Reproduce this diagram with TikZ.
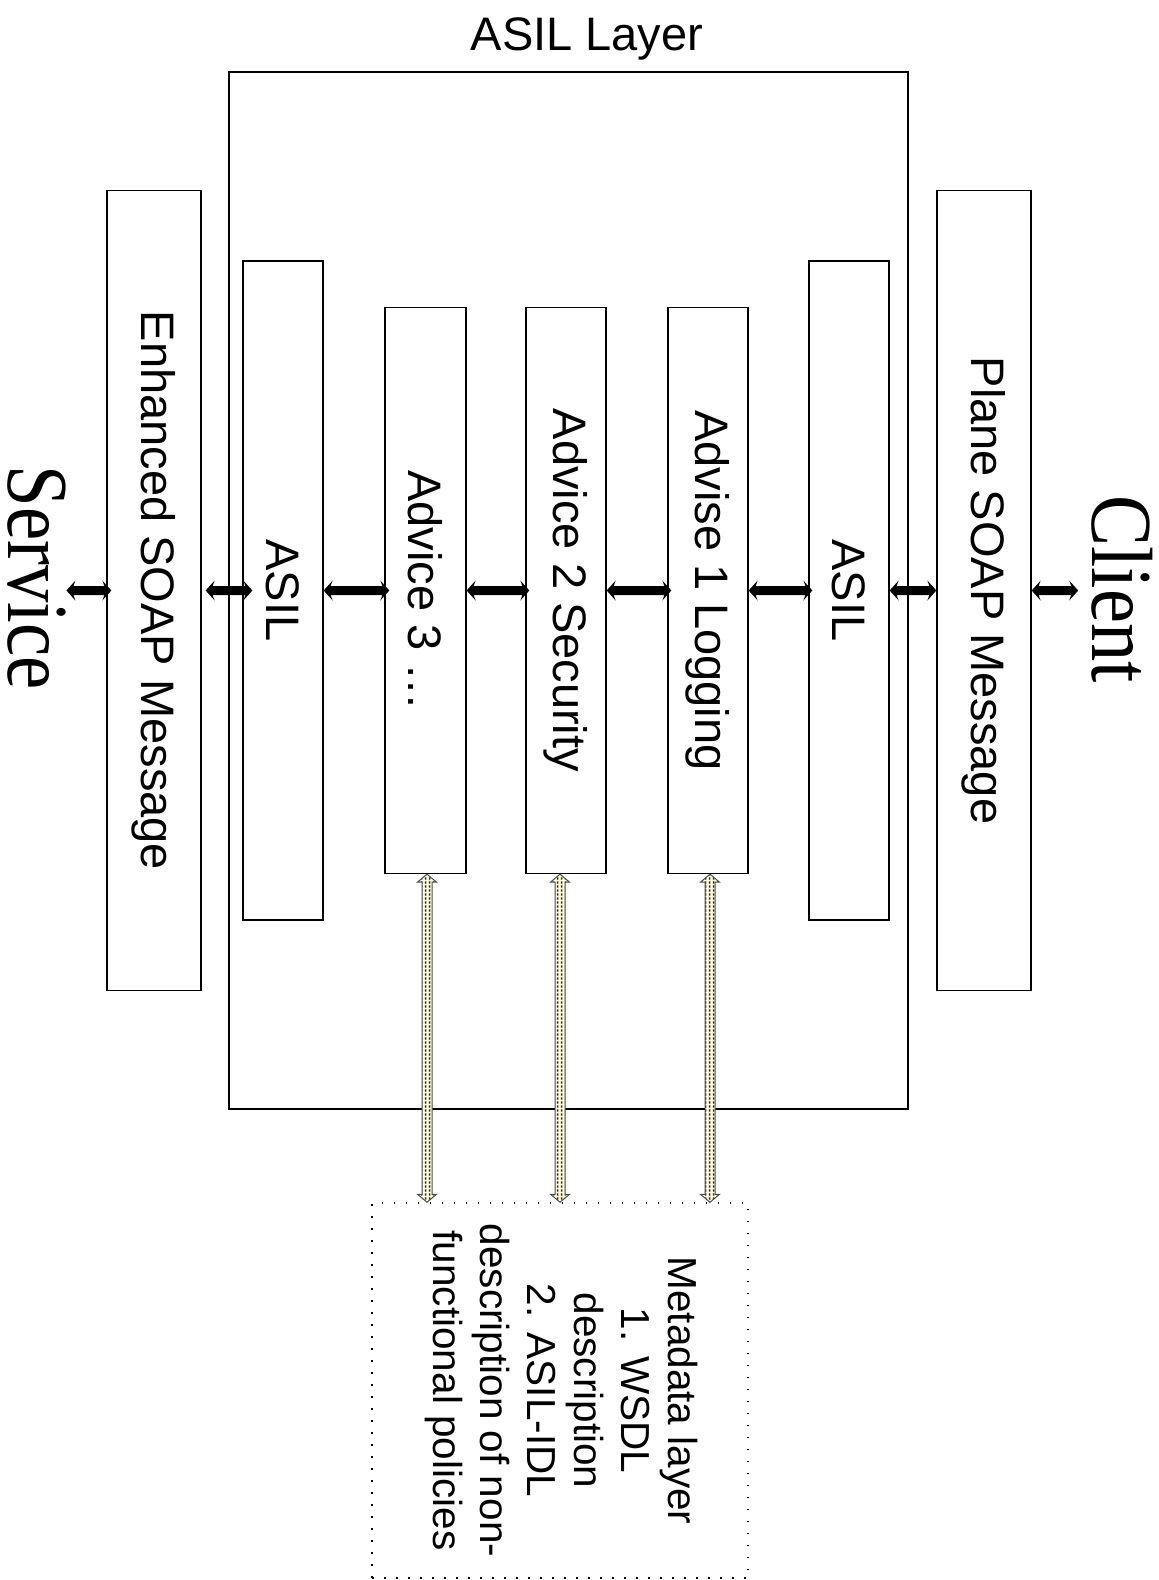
\documentclass[tikz,border=0pt]{standalone}
\usepackage{fontspec}
\setmainfont{Liberation Sans}
\newfontfamily\tnrfont{Liberation Serif}
\usetikzlibrary{patterns,calc}
\pgfdeclarepatternformonly{bigdots}{\pgfpointorigin}{\pgfpoint{4pt}{4pt}}{\pgfpoint{4pt}{4pt}}%
  {\pgfpathrectangle{\pgfpoint{1pt}{0.5pt}}{\pgfpoint{1.8pt}{2.8pt}}\pgfusepath{fill}}
% patterned double arrow between two named coordinates (top, bottom)
\newcommand\patconn[2]{%
  \path[patarrow] (#1) -- ++(9.5,8) -- ++(-4.5,0) -- ($(#2)+(5,-8)$) -- ++(4.5,0) -- (#2)
    -- ++(-9.5,-8) -- ++(4.5,0) -- ($(#1)+(-5,8)$) -- ++(-4.5,0) -- cycle;}
% thick black horizontal double arrow (left point, right point)
\newcommand\blkconn[2]{%
  \coordinate (bL) at (#1);
  \coordinate (bR) at (#2);
  \path[blkarrow] (bL) -- ++(9,-10) -- ++(-2,5.5) -- ($(bR)+(-7,-4.5)$) -- ++(-2,-5.5) -- (bR)
    -- ++(-9,10) -- ++(2,-5.5) -- ($(bL)+(7,4.5)$) -- ++(2,5.5) -- cycle;}
\begin{document}
\begin{tikzpicture}[x=1pt,y=-1pt,
  box/.style={draw, line width=1.3pt, fill=white, inner sep=0pt, font=\fontsize{47}{47}\selectfont},
  blkarrow/.style={fill=black},
  patarrow/.style={draw=black!70, line width=1pt, preaction={fill=yellow!12}, pattern=bigdots, pattern color=black!85},
  bigtext/.style={inner sep=0pt}
]
\useasboundingbox (0,0) rectangle (1159,1580);

% ASIL layer frame and title
\node[draw, line width=2.5pt, minimum width=679, minimum height=1037, inner sep=0pt] (layer) at (568.5,590.5) {};
\node[font=\fontsize{47}{47}\selectfont, anchor=base, inner sep=0pt] (title) at (587,50) {ASIL Layer};

% vertical boxes
\node[box, minimum width=94, minimum height=800] (esm) at (154,590.5) {\rotatebox{-90}{Enhanced SOAP Message}};
\node[box, minimum width=80, minimum height=659] (asilL) at (283,590.5) {\rotatebox{-90}{ASIL}};
\node[box, minimum width=81, minimum height=566] (a3) at (425.5,590.5) {\rotatebox{-90}{Advice 3 …}};
\node[box, minimum width=80, minimum height=566] (a2) at (566,590.5) {\rotatebox{-90}{Advice 2 Security}};
\node[box, minimum width=80, minimum height=566] (a1) at (708,590.5) {\rotatebox{-90}{Advise 1 Logging}};
\node[box, minimum width=80, minimum height=659] (asilR) at (849,590.5) {\rotatebox{-90}{ASIL}};
\node[box, minimum width=94, minimum height=800] (psm) at (984,590.5) {\rotatebox{-90}{Plane SOAP Message}};

% end labels
\node[bigtext] (svc) at (37,578) {\rotatebox{-90}{\scalebox{0.86}[1]{\tnrfont\fontsize{87}{87}\selectfont Service}}};
\node[bigtext] (cli) at (1122,589) {\rotatebox{-90}{\scalebox{0.88}[1]{\tnrfont\fontsize{87}{87}\selectfont Client}}};

% metadata layer
\node[draw, line width=1.5pt, dash pattern=on 1.5pt off 10.5pt, minimum width=376, minimum height=375, inner sep=0pt] (meta) at (560,1390.5)
  {\rotatebox{-90}{\fontsize{40.5}{47}\selectfont\begin{tabular}{@{}c@{}}Metadata layer\\1. WSDL\\description\\2. ASIL-IDL\\description of non-\\functional policies\end{tabular}}};

% message flow arrows
\blkconn{svc.east |- esm.west}{$(esm.west)+(5,0)$}
\blkconn{$(esm.east)+(4,0)$}{$(asilL.west)+(10,0)$}
\blkconn{asilL.east}{$(a3.west)+(5,0)$}
\blkconn{a3.east}{$(a2.west)+(4,0)$}
\blkconn{a2.east}{$(a1.west)+(4,0)$}
\blkconn{a1.east}{$(asilR.west)+(4,0)$}
\blkconn{asilR.east}{psm.west}
\blkconn{psm.east}{$(cli.west |- psm.east)+(-13,0)$}

% metadata connectors
\coordinate (t3) at ($(a3.south)+(1.5,0)$);
\coordinate (b3) at (t3 |- meta.north);
\coordinate (t2) at ($(a2.south)+(-6,0)$);
\coordinate (b2) at (t2 |- meta.north);
\coordinate (t1) at ($(a1.south)+(2,0)$);
\coordinate (b1) at (t1 |- meta.north);
\patconn{t3}{b3}
\patconn{t2}{b2}
\patconn{t1}{b1}
\end{tikzpicture}
\end{document}
